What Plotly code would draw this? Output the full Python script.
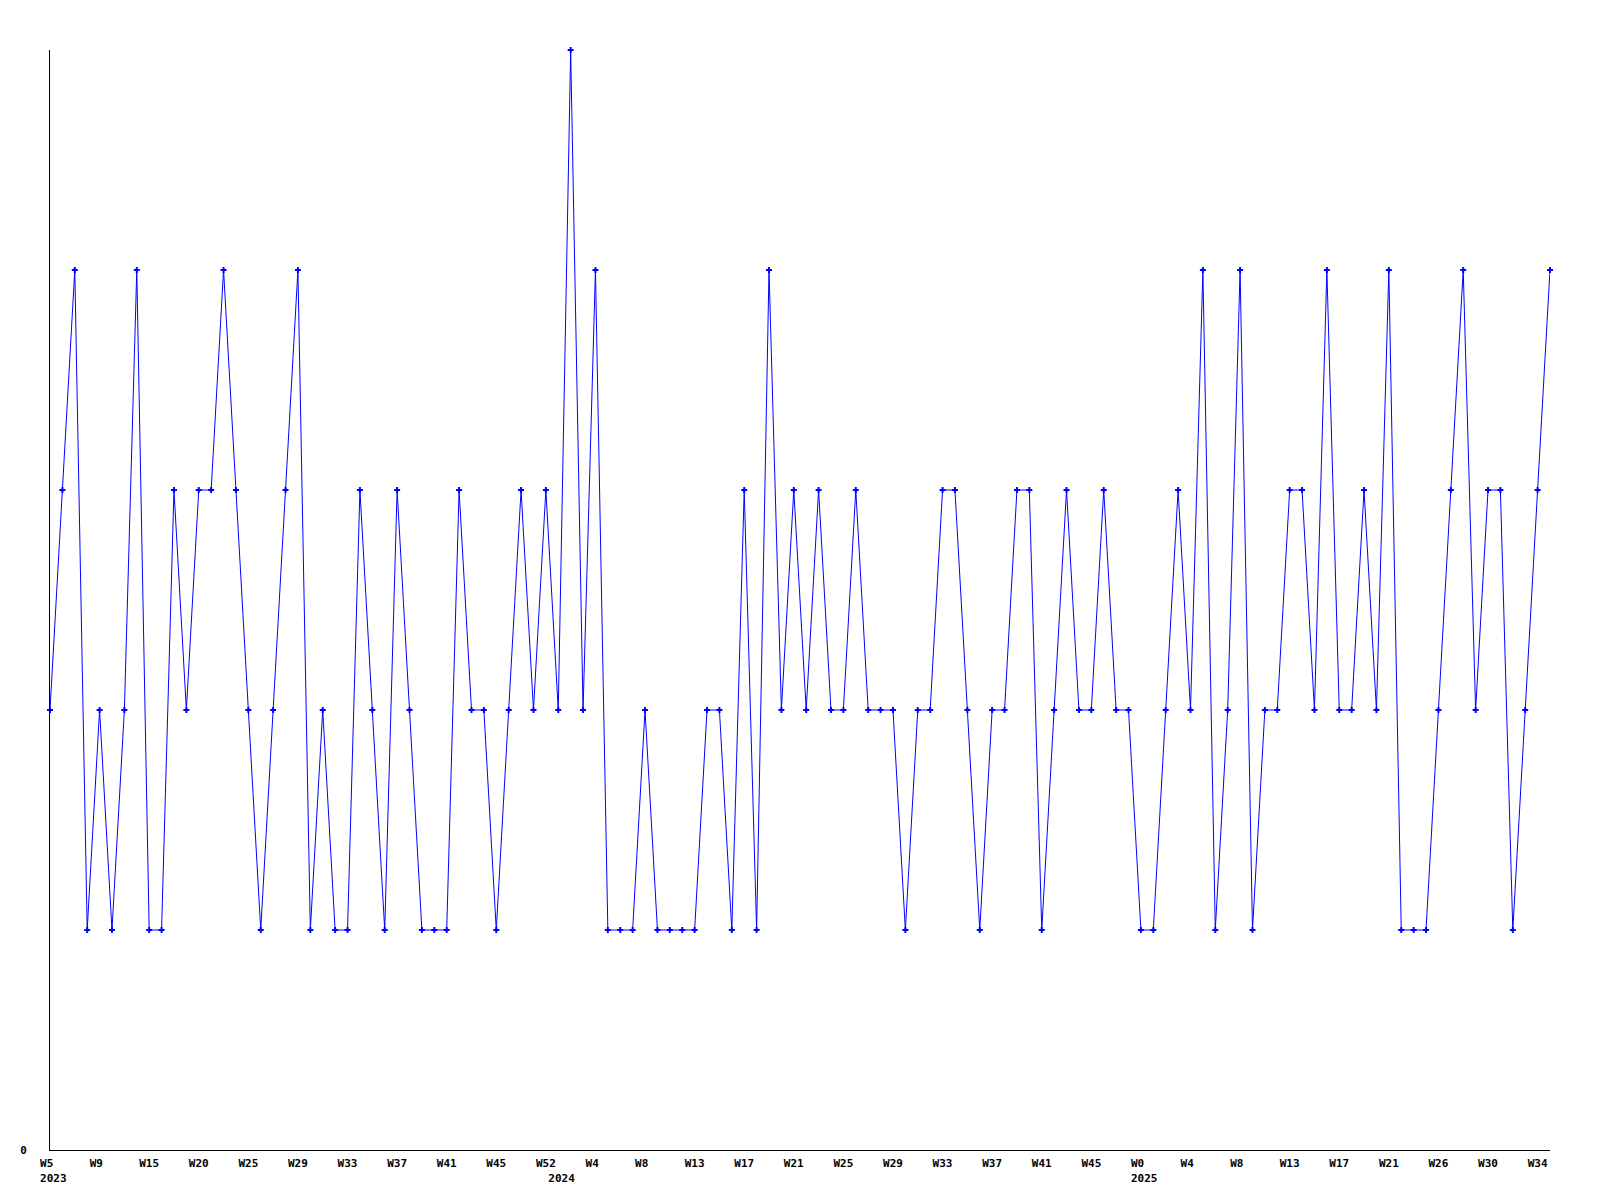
import plotly.graph_objects as go

# weekly values (one per point, left to right)
values = [
    2, 3, 4, 1, 2, 1, 2, 4, 1, 1,
    3, 2, 3, 3, 4, 3, 2, 1, 2, 3,
    4, 1, 2, 1, 1, 3, 2, 1, 3, 2,
    1, 1, 1, 3, 2, 2, 1, 2, 3, 2,
    3, 2, 5, 2, 4, 1, 1, 1, 2, 1,
    1, 1, 1, 2, 2, 1, 3, 1, 4, 2,
    3, 2, 3, 2, 2, 3, 2, 2, 2, 1,
    2, 2, 3, 3, 2, 1, 2, 2, 3, 3,
    1, 2, 3, 2, 2, 3, 2, 2, 1, 1,
    2, 3, 2, 4, 1, 2, 4, 1, 2, 2,
    3, 3, 2, 4, 2, 2, 3, 2, 4, 1,
    1, 1, 2, 3, 4, 2, 3, 3, 1, 2,
    3, 4,
]

# week labels shown under every 4th point
week_labels = [
    "W5", "W9", "W15", "W20", "W25", "W29", "W33", "W37", "W41", "W45", "W52",
    "W4", "W8", "W13", "W17", "W21", "W25", "W29", "W33", "W37", "W41", "W45",
    "W0", "W4", "W8", "W13", "W17", "W21", "W26", "W30", "W34",
]
label_every = 4

# year labels and the index of the first point of each year
year_labels = ["2023", "2024", "2025"]
year_start_index = [0, 41, 88]

y_tick_values = [0]
y_tick_labels = ["0"]

n = len(values)
x = list(range(n))

NB = "\u00a0"


def pad3(s):
    # monospace: pad short labels so their left edge lines up like the original
    return s + NB * (3 - len(s)) if len(s) < 3 else s


week_ticktext = [pad3(s) for s in week_labels]
week_tickvals = [i * label_every for i in range(len(week_labels))]
year_ticktext = [NB + s for s in year_labels]

font = dict(family="DejaVu Sans Mono", size=11, color="black", weight="bold")

fig = go.Figure()
fig.add_trace(
    go.Scatter(
        x=x,
        y=values,
        mode="lines+markers",
        line=dict(color="#0000ff", width=1),
        marker=dict(symbol="cross", size=5, color="#0000ff", line=dict(width=0)),
        cliponaxis=False,
        showlegend=False,
        hoverinfo="skip",
    )
)
# invisible trace to activate the second (year) x axis
fig.add_trace(
    go.Scatter(x=[0], y=[0], xaxis="x2", mode="markers",
               marker=dict(opacity=0), showlegend=False, hoverinfo="skip")
)

fig.update_layout(
    width=1584,
    height=1184,
    margin=dict(l=42, r=42, t=42, b=42, autoexpand=False),
    paper_bgcolor="white",
    plot_bgcolor="white",
    showlegend=False,
    xaxis=dict(
        range=[0, n - 1],
        automargin=False,
        showgrid=False,
        zeroline=False,
        showline=True,
        linecolor="black",
        linewidth=1,
        ticks="",
        tickmode="array",
        tickvals=week_tickvals,
        ticktext=week_ticktext,
        tickangle=0,
        tickfont=font,
        ticklabelstandoff=3,
    ),
    xaxis2=dict(
        overlaying="x",
        anchor="y",
        side="bottom",
        range=[0, n - 1],
        automargin=False,
        showgrid=False,
        zeroline=False,
        showline=False,
        ticks="",
        tickmode="array",
        tickvals=year_start_index,
        ticktext=year_ticktext,
        tickangle=0,
        tickfont=font,
        ticklabelstandoff=20,
    ),
    yaxis=dict(
        range=[0, 5],
        automargin=False,
        showgrid=False,
        zeroline=False,
        showline=True,
        linecolor="black",
        linewidth=1,
        ticks="",
        tickmode="array",
        tickvals=y_tick_values,
        ticktext=y_tick_labels,
        tickfont=font,
        ticklabelstandoff=20,
    ),
)

fig.write_html("out.html")
